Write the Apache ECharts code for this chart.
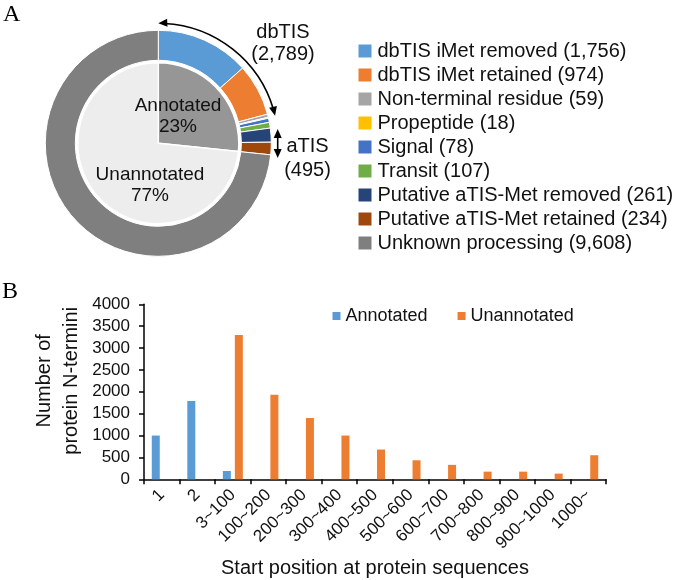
<!DOCTYPE html>
<html>
<head>
<meta charset="utf-8">
<script src="https://cdn.jsdelivr.net/npm/echarts@6/dist/echarts.min.js"></script>
<style>
html,body{margin:0;padding:0;background:#fff;}
#chart{width:675px;height:580px;}
</style>
</head>
<body>
<div id="chart"></div>
<script>
// ---- Panel A data ----
const outerNames = ['dbTIS iMet removed', 'dbTIS iMet retained', 'Non-terminal residue', 'Propeptide', 'Signal', 'Transit', 'Putative aTIS-Met removed', 'Putative aTIS-Met retained', 'Unknown processing'];
const outerValues = [1756, 974, 59, 18, 78, 107, 261, 234, 9608];
const outerColors = ['#5b9bd5', '#ed7d31', '#a5a5a5', '#ffc000', '#4472c4', '#70ad47', '#264478', '#9e480e', '#7f7f7f'];
const innerNames = ['Annotated', 'Unannotated'];
const innerValues = [3487, 9608];
const innerPercents = ['23%', '77%'];
const innerColors = ['#969696', '#ededed'];

// ---- Panel B data ----
const categories = ['1', '2', '3~100', '100~200', '200~300', '300~400', '400~500', '500~600', '600~700', '700~800', '800~900', '900~1000', '1000~'];
const annotatedCounts = [1000, 1790, 190, null, null, null, null, null, null, null, null, null, null];
const unannotatedCounts = [null, null, 3300, 1930, 1400, 1000, 680, 435, 330, 175, 175, 130, 550];
const yTicks = { min: 0, max: 4000, interval: 500 };

const FONT = 'Liberation Sans, Arial, sans-serif';
const TXT = '#111';
const CX = 158.3, CY = 143.3;

const chart = echarts.init(document.getElementById('chart'));
const fmt = v => v.toLocaleString('en-US');

// annotation geometry derived from data
const total = outerValues.reduce((a, b) => a + b, 0);
const dbTIS = outerValues[0] + outerValues[1] + outerValues[2];
const aTIS = outerValues[6] + outerValues[7];

function arrowHead(tx, ty, dx, dy) {
  const len = 9, half = 4;
  const n = Math.hypot(dx, dy); dx /= n; dy /= n;
  const bx = tx - dx * len, by = ty - dy * len;
  return {
    type: 'polygon',
    shape: { points: [[tx, ty], [bx - dy * half, by + dx * half], [bx + dy * half, by - dx * half]] },
    style: { fill: '#000' }, silent: true
  };
}
const AR = 120;
const endA = -Math.PI / 2 + 2 * Math.PI * dbTIS / total;
const endTip = [CX + AR * Math.cos(endA), CY + AR * Math.sin(endA)];
const graphics = [
  { type: 'text', left: 3, top: 3, style: { text: 'A', font: '24px Liberation Serif, Times New Roman, serif', fill: '#000' } },
  { type: 'text', left: 2, top: 280, style: { text: 'B', font: '24px Liberation Serif, Times New Roman, serif', fill: '#000' } },
  { type: 'arc', shape: { cx: CX, cy: CY, r: AR, startAngle: -Math.PI / 2 + 0.05, endAngle: endA - 0.05, clockwise: true }, style: { stroke: '#000', lineWidth: 1.6, fill: null }, silent: true },
  arrowHead(CX, CY - AR, -1, 0.05),
  arrowHead(endTip[0], endTip[1], -Math.sin(endA), Math.cos(endA)),
  { type: 'line', shape: { x1: 277.7, y1: 132, x2: 277.7, y2: 155 }, style: { stroke: '#000', lineWidth: 1.6 }, silent: true },
  arrowHead(277.7, 129, 0, -1),
  arrowHead(277.7, 158, 0, 1),
  { type: 'text', x: 283, y: 32, style: { text: 'dbTIS', font: '20px ' + FONT, fill: TXT, align: 'center', verticalAlign: 'middle' } },
  { type: 'text', x: 283, y: 54, style: { text: '(' + fmt(dbTIS) + ')', font: '20px ' + FONT, fill: TXT, align: 'center', verticalAlign: 'middle' } },
  { type: 'text', x: 307.5, y: 146, style: { text: 'aTIS', font: '20px ' + FONT, fill: TXT, align: 'center', verticalAlign: 'middle' } },
  { type: 'text', x: 307.5, y: 170, style: { text: '(' + fmt(aTIS) + ')', font: '20px ' + FONT, fill: TXT, align: 'center', verticalAlign: 'middle' } }
];

const innerLabelPos = [[178, 116.5], [150, 185]];

const option = {
  animation: false,
  textStyle: { fontFamily: FONT },
  graphic: graphics,
  legend: [
    {
      data: outerNames,
      orient: 'vertical',
      left: 351.5, top: 34,
      icon: 'rect', itemWidth: 15, itemHeight: 15, itemGap: 0,
      selectedMode: false,
      textStyle: { fontSize: 20, color: TXT, fontFamily: FONT, lineHeight: 24 },
      formatter: name => name + ' (' + fmt(outerValues[outerNames.indexOf(name)]) + ')'
    },
    {
      data: ['Annotated', 'Unannotated'],
      orient: 'horizontal',
      left: 327.5, top: 302,
      icon: 'rect', itemWidth: 8, itemHeight: 8, itemGap: 30,
      selectedMode: false,
      textStyle: { fontSize: 18, color: TXT, fontFamily: FONT }
    }
  ],
  grid: { left: 144, right: 69, top: 304.3, bottom: 100.7, containLabel: false },
  xAxis: {
    type: 'category', data: categories, boundaryGap: true,
    axisLine: { lineStyle: { color: '#000', width: 1.5 } },
    axisTick: { show: true, length: 5, lineStyle: { color: '#000', width: 1.5 } },
    axisLabel: { rotate: 45, fontSize: 17, color: TXT, margin: 13, interval: 0 },
    name: 'Start position at protein sequences', nameLocation: 'middle', nameGap: 79, nameMoveOverlap: false,
    nameTextStyle: { fontSize: 20, color: TXT }
  },
  yAxis: {
    type: 'value', min: yTicks.min, max: yTicks.max, interval: yTicks.interval,
    axisLine: { show: true, lineStyle: { color: '#000', width: 1.5 } },
    axisTick: { show: true, length: 5, lineStyle: { color: '#000', width: 1.5 } },
    splitLine: { show: false },
    axisLabel: { fontSize: 17, color: TXT, margin: 14, formatter: v => String(v) },
    name: 'Number of\nprotein N-termini', nameLocation: 'middle', nameGap: 59, nameRotate: 90, nameMoveOverlap: false,
    nameTextStyle: { fontSize: 20, color: TXT, lineHeight: 27, padding: [0, 0, 0, 22] }
  },
  series: [
    {
      name: 'Annotated', type: 'bar', data: annotatedCounts, barWidth: 8, barGap: '50%',
      itemStyle: { color: '#5b9bd5' }
    },
    {
      name: 'Unannotated', type: 'bar', data: unannotatedCounts, barWidth: 8, barGap: '50%',
      itemStyle: { color: '#ed7d31' }
    },
    {
      name: 'inner', type: 'pie', center: [CX, CY], radius: [0, 80.5], startAngle: 90, clockwise: true,
      avoidLabelOverlap: false, silent: true,
      data: innerNames.map((n, i) => ({ name: n, value: innerValues[i], itemStyle: { color: innerColors[i] } })),
      itemStyle: { borderColor: '#fff', borderWidth: 1.5 },
      label: {
        show: true, position: 'inside', fontSize: 19, color: TXT, lineHeight: 21, fontFamily: FONT,
        formatter: p => p.name + '\n' + innerPercents[p.dataIndex]
      },
      labelLine: { show: false },
      labelLayout: p => ({ x: innerLabelPos[p.dataIndex][0], y: innerLabelPos[p.dataIndex][1], align: 'center', verticalAlign: 'middle' })
    },
    {
      name: 'outer', type: 'pie', center: [CX, CY], radius: [83, 113], startAngle: 90, clockwise: true,
      silent: true, label: { show: false }, labelLine: { show: false },
      data: outerNames.map((n, i) => ({ name: n, value: outerValues[i], itemStyle: { color: outerColors[i] } })),
      itemStyle: { borderColor: '#fff', borderWidth: 1 }
    }
  ]
};
chart.setOption(option);
</script>
</body>
</html>
